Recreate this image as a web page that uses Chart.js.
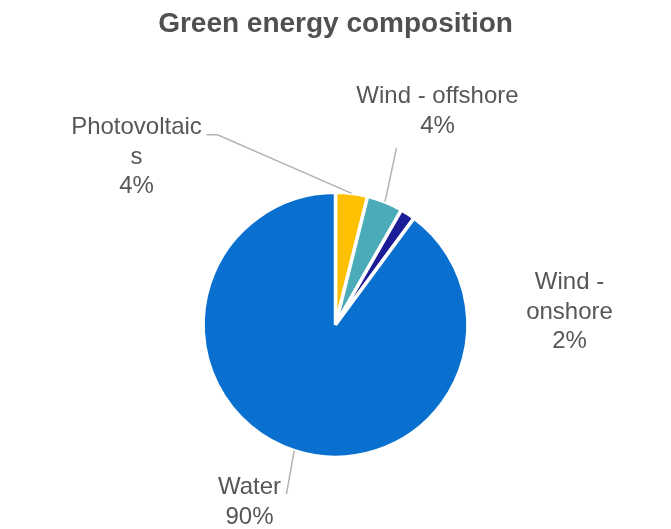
<!DOCTYPE html>
<html>
<head>
<meta charset="utf-8">
<script src="https://cdn.jsdelivr.net/npm/chart.js@4/dist/chart.umd.min.js"></script>
<style>
    html, body { margin: 0; padding: 0; background: #ffffff; }
    #wrap { width: 671px; height: 529px; }
</style>
</head>
<body>
<div id="wrap"><canvas id="energyChart" width="671" height="529"></canvas></div>
<script>
const categories = ['Photovoltaics', 'Wind - offshore', 'Wind - onshore', 'Water'];
const shares = [3.9, 4.4, 1.8, 89.9];
const labelLines = [
    ['Photovoltaic', 's', '4%'],
    ['Wind - offshore', '4%'],
    ['Wind -', 'onshore', '2%'],
    ['Water', '90%']
];
const sliceColors = ['#FFC000', '#4BABB8', '#1C1C96', '#0A70CF'];

// label placement, offsets from the pie centre (first line centre, then leader line start)
const labelPlace = [
    { dx: -199, dy: -197, leader: [[-129, -190], [-118, -190]] },
    { dx: 102, dy: -228, leader: [[61, -177]] },
    { dx: 234, dy: -42, leader: null },
    { dx: -86, dy: 163, leader: [[-49, 169]] }
];

const sliceLabels = {
    id: 'sliceLabels',
    afterDatasetsDraw(chart) {
        const ctx = chart.ctx;
        const arcs = chart.getDatasetMeta(0).data;
        ctx.save();
        arcs.forEach((arc, i) => {
            const p = labelPlace[i];
            const cx = arc.x, cy = arc.y;
            const mid = (arc.startAngle + arc.endAngle) / 2;
            if (p.leader) {
                ctx.strokeStyle = '#b3b3b3';
                ctx.lineWidth = 1.5;
                ctx.beginPath();
                p.leader.forEach((pt, k) => {
                    if (k === 0) ctx.moveTo(cx + pt[0], cy + pt[1]);
                    else ctx.lineTo(cx + pt[0], cy + pt[1]);
                });
                ctx.lineTo(cx + Math.cos(mid) * arc.outerRadius, cy + Math.sin(mid) * arc.outerRadius);
                ctx.stroke();
            }
            ctx.fillStyle = '#575757';
            ctx.font = '24px "Liberation Sans", Arial, sans-serif';
            ctx.textAlign = 'center';
            ctx.textBaseline = 'middle';
            labelLines[i].forEach((line, k) => {
                ctx.fillText(line, cx + p.dx, cy + p.dy + k * 29.5);
            });
        });
        ctx.restore();
    }
};

new Chart(document.getElementById('energyChart').getContext('2d'), {
    type: 'pie',
    data: {
        labels: categories,
        datasets: [{
            data: shares,
            backgroundColor: sliceColors,
            borderColor: '#ffffff',
            borderWidth: 3.5
        }]
    },
    options: {
        responsive: false,
        animation: false,
        layout: { padding: { top: 0, bottom: 70, left: 0, right: 0 } },
        plugins: {
            legend: { display: false },
            tooltip: { enabled: false },
            title: {
                display: true,
                text: 'Green energy composition',
                color: '#505050',
                font: { family: '"Liberation Sans", Arial, sans-serif', size: 28, weight: 'bold' },
                padding: { top: 7, bottom: 150 }
            }
        }
    },
    plugins: [sliceLabels]
});
</script>
</body>
</html>
